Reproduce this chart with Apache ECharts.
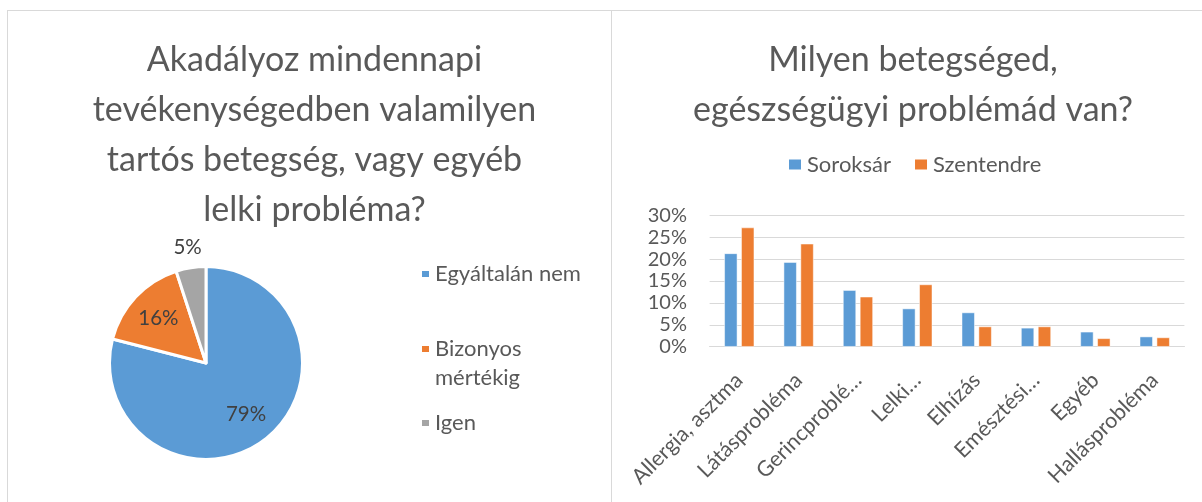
<!DOCTYPE html>
<html><head><meta charset="utf-8">
<script src="https://cdn.jsdelivr.net/npm/echarts@6/dist/echarts.min.js"></script>
<style>
html,body{margin:0;padding:0;background:#fff;}
#wrap{position:relative;width:1202px;height:502px;overflow:hidden;background:#fff;}
.ln{position:absolute;background:#d9d9d9;}
#chart{position:absolute;left:0;top:0;width:1202px;height:502px;}
</style></head>
<body><div id="wrap">
<div class="ln" style="left:7px;top:10px;width:1195px;height:1px"></div>
<div class="ln" style="left:7px;top:10px;width:1px;height:492px"></div>
<div class="ln" style="left:611px;top:10px;width:1px;height:492px"></div>
<div id="chart"></div></div>
<script>
const pieTitle = 'Akadályoz mindennapi\ntevékenységedben valamilyen\ntartós betegség, vagy egyéb\nlelki probléma?';
const barTitle = 'Milyen betegséged,\negészségügyi problémád van?';
const pieNames = ['Egyáltalán nem', 'Bizonyos mértékig', 'Igen'];
const pieValues = [79, 16, 5];
const pieColors = ['#5B9BD5', '#ED7D31', '#A5A5A5'];
const categories = ['Allergia, asztma', 'Látásprobléma', 'Gerincproblé…', 'Lelki…', 'Elhízás', 'Emésztési…', 'Egyéb', 'Hallásprobléma'];
const seriesNames = ['Soroksár', 'Szentendre'];
const soroksar = [21.3, 19.3, 12.9, 8.7, 7.8, 4.3, 3.4, 2.3];
const szentendre = [27.2, 23.5, 11.4, 14.2, 4.6, 4.6, 1.9, 2.1];
const yMin = 0, yMax = 30, yStep = 5;

const FONT = 'Lato';
const txt = '#595959';

// mid angles of pie slices (start at 12 o'clock, clockwise), used to nudge inside labels outward
const pieTotal = pieValues.reduce((a, b) => a + b, 0);
const midAngles = [];
(function () { let acc = 0; pieValues.forEach(v => { midAngles.push((90 - (acc + v / 2) / pieTotal * 360) * Math.PI / 180); acc += v; }); })();

const legendText = { fontFamily: FONT, fontSize: 22, color: txt, lineHeight: 29 };
const pieLegendBase = { left: 420, padding: 0, icon: 'rect', itemWidth: 9, itemHeight: 8, textStyle: legendText };

const chart = echarts.init(document.getElementById('chart'));
chart.setOption({
  backgroundColor: 'transparent',
  animation: false,
  textStyle: { fontFamily: FONT },
  color: pieColors,
  title: [
    { text: pieTitle, left: 309.5, textAlign: 'center', top: 30,
      textStyle: { fontFamily: FONT, fontSize: 34, fontWeight: 'normal', color: txt, lineHeight: 50 } },
    { text: barTitle, left: 908, textAlign: 'center', top: 30,
      textStyle: { fontFamily: FONT, fontSize: 34, fontWeight: 'normal', color: txt, lineHeight: 50 } }
  ],
  legend: [
    { data: seriesNames, left: 787, top: 152.5, padding: 0, itemGap: 22,
      itemWidth: 14, itemHeight: 12, icon: 'rect',
      textStyle: { fontFamily: FONT, fontSize: 22, color: txt, lineHeight: 24 } },
    Object.assign({ data: [pieNames[0]], top: 259.5 }, pieLegendBase),
    Object.assign({ data: [pieNames[1]], top: 305.5, formatter: n => '\n' + n.replace(' ', '\n') }, pieLegendBase),
    Object.assign({ data: [pieNames[2]], top: 408.5 }, pieLegendBase)
  ],
  grid: { left: 709.6, right: 17.6, top: 215.3, bottom: 155.3, containLabel: false },
  xAxis: {
    type: 'category', data: categories,
    axisLine: { lineStyle: { color: '#d9d9d9', width: 1 } },
    axisTick: { show: false },
    axisLabel: { rotate: 45, interval: 0, margin: 30, hideOverlap: false,
      fontFamily: FONT, fontSize: 21.5, color: txt }
  },
  yAxis: {
    type: 'value', min: yMin, max: yMax, interval: yStep,
    axisLine: { show: false }, axisTick: { show: false },
    splitLine: { lineStyle: { color: '#d9d9d9', width: 1 } },
    axisLabel: { formatter: '{value}%', margin: 22.6, showMinLabel: true, showMaxLabel: true, hideOverlap: false,
      fontFamily: FONT, fontSize: 20, color: txt }
  },
  series: [
    { name: seriesNames[0], type: 'bar', data: soroksar, barWidth: 13, barGap: '30%',
      itemStyle: { color: '#5B9BD5', borderColor: '#ffffff', borderWidth: 0.5 } },
    { name: seriesNames[1], type: 'bar', data: szentendre, barWidth: 13, barGap: '30%',
      itemStyle: { color: '#ED7D31', borderColor: '#ffffff', borderWidth: 0.5 } },
    {
      type: 'pie', center: [206, 363], radius: 96.5, startAngle: 90, clockwise: true,
      avoidLabelOverlap: false,
      itemStyle: { borderColor: '#ffffff', borderWidth: 3 },
      label: { show: true, position: 'inside', formatter: '{c}%', fontFamily: FONT, fontSize: 20.5, color: '#404040' },
      labelLine: { show: false },
      labelLayout: p => {
        if (p.dataIndex === 2) return { align: 'center', verticalAlign: 'middle' };
        const a = midAngles[p.dataIndex];
        return { dx: Math.cos(a) * 14, dy: -Math.sin(a) * 14 };
      },
      data: pieNames.map((n, i) => {
        const d = { name: n, value: pieValues[i] };
        if (i === 2) {
          d.label = { position: 'outside', distanceToLabelLine: 0 };
          d.labelLine = { show: false, length: 21, length2: 0 };
        }
        return d;
      })
    }
  ]
});
</script></body></html>
